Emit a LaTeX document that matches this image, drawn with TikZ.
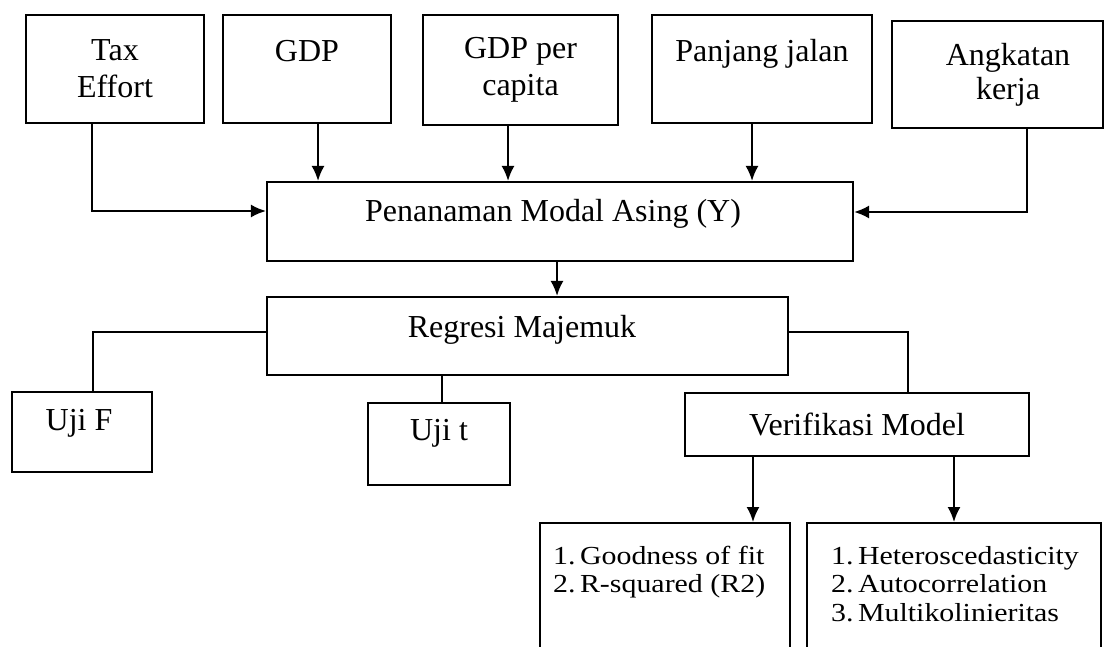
\documentclass[tikz,border=0pt]{standalone}
\usepackage{fontspec}
\setmainfont{Liberation Serif}
\newfontfamily\widefont{Liberation Serif}[FakeStretch=1.15]
\usetikzlibrary{arrows.meta}
\newcommand\liftup[2]{\raisebox{#1}[\height][\depth]{#2}}
\begin{document}
\begin{tikzpicture}[x=1pt,y=-1pt,
  box/.style={draw, line width=2.1pt, inner sep=0pt, font=\fontsize{32pt}{37pt}\selectfont},
  boxml/.style={box, align=center},
  listbox/.style={draw, line width=2.1pt, inner sep=0pt, anchor=north west},
  ln/.style={line width=2pt},
  arr/.style={line width=2pt, -{Latex[length=15pt,width=13pt]}}
]
\useasboundingbox (0,0) rectangle (1105,647);
\fill[white] (0,0) rectangle (1105,647);
\clip (0,0) rectangle (1105,647);

% top row
\node[boxml, minimum width=178pt, minimum height=108pt] (tax) at (115,69) {Tax\\Effort};
\node[boxml, minimum width=168pt, minimum height=108pt] (gdp) at (307,69) {GDP\\~};
\node[boxml, minimum width=195pt, minimum height=110pt] (gpc) at (520.5,70) {GDP per\\capita};
\node[boxml, minimum width=220pt, minimum height=108pt] (jal) at (762,69) {Panjang jalan\\~};
\node[boxml, minimum width=211pt, minimum height=107pt] (ang) at (997.5,74.5) {\hspace*{21pt}Angkatan\\[-3pt]\hspace*{21pt}kerja};

% middle
\node[box, minimum width=586pt, minimum height=79pt] (pma) at (560,221.5) {\liftup{8pt}{Penanaman Modal Asing (Y)}\hspace*{14pt}};
\node[box, minimum width=521pt, minimum height=78pt] (reg) at (527.5,336) {\liftup{6pt}{Regresi Majemuk}\hspace*{11pt}};
\node[box, minimum width=140pt, minimum height=80pt] (ujif) at (82,432) {\liftup{9pt}{Uji F}\hspace*{6pt}};
\node[box, minimum width=142pt, minimum height=82pt] (ujit) at (439,444) {\liftup{11pt}{Uji t}};
\node[box, minimum width=344pt, minimum height=63pt] (ver) at (857,424.5) {Verifikasi Model};

% bottom lists
\node[listbox] (gof) at (539,522) {\parbox[t][170pt][t]{250pt}{\raggedright\widefont\fontsize{26pt}{28.5pt}\selectfont
  \hspace*{13pt}\rule{0pt}{41pt}\makebox[27pt][l]{1.}Goodness of fit\\
  \hspace*{13pt}\makebox[27pt][l]{2.}R-squared (R2)}};
\node[listbox] (het) at (806,522) {\parbox[t][170pt][t]{294pt}{\raggedright\widefont\fontsize{26pt}{28.5pt}\selectfont
  \hspace*{24pt}\rule{0pt}{41pt}\makebox[27pt][l]{1.}Heteroscedasticity\\
  \hspace*{24pt}\makebox[27pt][l]{2.}Autocorrelation\\
  \hspace*{24pt}\makebox[27pt][l]{3.}Multikolinieritas}};

% connector coordinates
\coordinate (ptax) at (92,211);
\coordinate (pgdp) at (318,0);
\coordinate (pgpc) at (508,0);
\coordinate (pjal) at (752,0);
\coordinate (pang) at (1027,212);
\coordinate (ppma) at (557,0);
\coordinate (pujf) at (93,332);
\coordinate (pujt) at (442,0);
\coordinate (pver) at (908,332);
\coordinate (pgof) at (753,0);
\coordinate (phet) at (954,0);

% connectors
\draw[arr] (tax.south -| ptax) |- (pma.west |- ptax);
\draw[arr] (gdp.south -| pgdp) -- (pma.north -| pgdp);
\draw[arr] (gpc.south -| pgpc) -- (pma.north -| pgpc);
\draw[arr] (jal.south -| pjal) -- (pma.north -| pjal);
\draw[arr] (ang.south -| pang) |- (pma.east |- pang);
\draw[arr] (pma.south -| ppma) -- (reg.north -| ppma);
\draw[ln] (reg.west |- pujf) -| (ujif.north -| pujf);
\draw[ln] (reg.south -| pujt) -- (ujit.north -| pujt);
\draw[ln] (reg.east |- pver) -| (ver.north -| pver);
\draw[arr] (ver.south -| pgof) -- (gof.north -| pgof);
\draw[arr] (ver.south -| phet) -- (het.north -| phet);
\end{tikzpicture}
\end{document}
